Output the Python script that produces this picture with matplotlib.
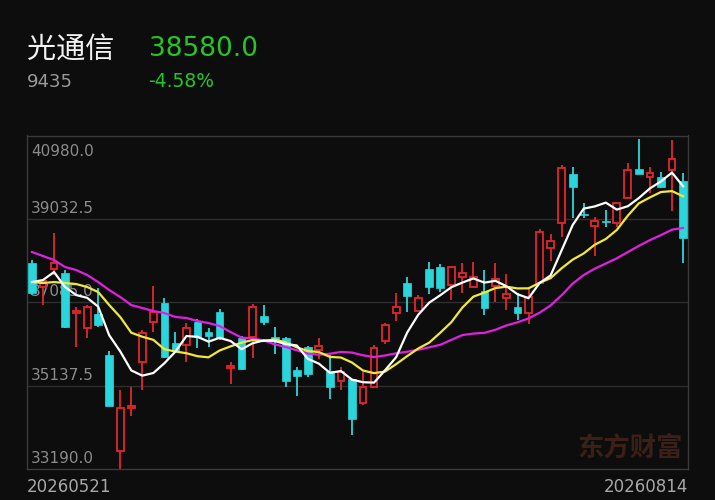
import matplotlib
matplotlib.use("Agg")
import matplotlib.pyplot as plt
import numpy as np

# 银柄数据 (读自截图)
stock_name = "光通信"
stock_code = "9435"
last_price = "38580.0"
change_pct = "-4.58%"
first_date = "20260521"
last_date = "20260814"

opens = [38001, 37441, 37861, 37768, 36833, 36483, 36810, 35852, 33610, 34614,
         35689, 36623, 37067, 36133, 36086, 36623, 36389, 36857, 35549, 36249,
         36273, 36763, 36273, 36249, 35502, 36039, 35969, 35478, 35245, 35292,
         34731, 35105, 36179, 36833, 37534, 36880, 37861, 37908, 37487, 37674,
         37441, 37347, 37464, 37184, 36973, 36833, 37534, 38352, 38936, 40080,
         39146, 38866, 38982, 38936, 39520, 40197, 40010, 40010, 40174, 39917]
highs = [38071, 37604, 38702, 37838, 36973, 37020, 37417, 35946, 35035, 35105,
         36436, 37464, 37184, 36389, 36600, 36693, 36483, 36927, 35689, 36296,
         37044, 37020, 36506, 36273, 35572, 36062, 36249, 35852, 35572, 35292,
         35455, 36086, 36600, 37301, 37674, 37254, 38025, 37978, 37931, 38001,
         38025, 37838, 38001, 37744, 37301, 37441, 38796, 38679, 40291, 40244,
         39403, 39076, 39239, 39403, 40337, 40900, 40244, 40127, 40880, 40104]
lows = [37254, 37020, 37721, 36483, 36039, 36249, 36506, 34661, 33190, 34427,
        35035, 36389, 35782, 35899, 35689, 36016, 36039, 36203, 35175, 35502,
        35782, 36553, 35876, 35105, 34894, 35338, 35759, 34824, 35035, 33983,
        34684, 35105, 36109, 36646, 36857, 36880, 37277, 37324, 37137, 37301,
        37417, 36787, 37090, 36903, 36670, 36576, 37534, 38048, 38609, 39053,
        39053, 38165, 38842, 38842, 39520, 40080, 39637, 39753, 39216, 38001]
closes = [37301, 37581, 38001, 36506, 36880, 36973, 36553, 34661, 34614, 34661,
          36366, 36857, 35805, 35969, 36483, 36273, 36296, 36249, 35595, 35525,
          36973, 36623, 36179, 35245, 35362, 35408, 36062, 35105, 35455, 34357,
          35105, 36016, 36553, 36973, 37230, 37184, 37441, 37417, 37908, 37768,
          37674, 36950, 37628, 37277, 36833, 37207, 38725, 38515, 40221, 39777,
          39123, 38982, 38959, 39403, 40174, 40080, 40104, 39777, 40432, 38580]

# 均线开头部分 (依赖截图范围之前的数据, 从图上读取)
ma5_head = [37557, 37604, 37791, 37441]
ma10_head = [37557, 37534, 37557, 37534, 37511, 37441, 37324, 37020, 36740]
ma20_head = [38258, 38165, 38071, 37908, 37838, 37721, 37557, 37371, 37207, 37020,
             36950, 36880, 36833, 36740, 36717, 36646, 36600, 36530, 36389]

y_min, y_max = 33190.0, 40980.0

BG = "#0d0d0d"
UP = "#e3262b"
DOWN = "#2ad6dc"


def moving_average(head, values, n):
    out = list(head)
    for i in range(n - 1, len(values)):
        out.append(np.mean(values[i - n + 1:i + 1]))
    return out


o = np.array(opens, dtype=float)
h = np.array(highs, dtype=float)
l = np.array(lows, dtype=float)
c = np.array(closes, dtype=float)
x = np.arange(len(c))

W, H = 715, 500
fig = plt.figure(figsize=(W / 100, H / 100), dpi=100, facecolor=BG)
ax = fig.add_axes([27 / W, 1 - 469 / H, (688 - 27) / W, (469 - 135.5) / H])
ax.set_facecolor(BG)

# 网格线
levels = np.linspace(y_min, y_max, 5)
for lv in levels[1:-1]:
    ax.axhline(lv, color="#2e2e2e", lw=1.0, zorder=0)

# 价格标签
for i, lv in enumerate(levels):
    dy = -20.5 if lv == y_max else 6
    ax.annotate(f"{lv:.1f}", xy=(0, lv), xycoords=("axes fraction", "data"),
                xytext=(4, dy), textcoords="offset pixels",
                color="#8c8c8c", fontsize=11, va="baseline", ha="left", zorder=1)

# K线
up = c >= o
body_lo = np.minimum(o, c)
body_hi = np.maximum(o, c)
body_h = np.maximum(body_hi - body_lo, 20)

# 阳线: 空心
ax.vlines(x[up], l[up], body_lo[up], color=UP, lw=1.3, zorder=2)
ax.vlines(x[up], body_hi[up], h[up], color=UP, lw=1.3, zorder=2)
ax.bar(x[up], body_h[up], bottom=body_lo[up], width=0.62,
       facecolor=BG, edgecolor=UP, linewidth=1.3, zorder=3)
# 阴线: 实心
ax.vlines(x[~up], l[~up], h[~up], color=DOWN, lw=1.3, zorder=2)
ax.bar(x[~up], body_h[~up], bottom=body_lo[~up], width=0.7,
       facecolor=DOWN, edgecolor=DOWN, linewidth=0.5, zorder=3)

# 均线
ma5 = moving_average(ma5_head, closes, 5)
ma10 = moving_average(ma10_head, closes, 10)
ma20 = moving_average(ma20_head, closes, 20)
ax.plot(x, ma20, color="#e020e0", lw=1.6, zorder=4)
ax.plot(x, ma10, color="#f2e83a", lw=1.6, zorder=5)
ax.plot(x, ma5, color="#ffffff", lw=1.6, zorder=6)

ax.set_xlim(-0.45, len(c) - 1 + 0.45)
ax.set_ylim(y_min, y_max)
ax.set_xticks([])
ax.set_yticks([])
for sp in ax.spines.values():
    sp.set_color("#3a3a3a")
    sp.set_linewidth(1.0)

# 水印
ax.text(0.912, 0.063, "东方财富", transform=ax.transAxes, ha="center", va="center",
        fontsize=19, fontweight="bold", color="#3a2016",
        family=["Noto Sans CJK SC", "DejaVu Sans"], zorder=1)

# 标题区
def ftext(px, py, s, **kw):
    fig.text(px / W, 1 - py / H, s, **kw)

ftext(27, 59, stock_name, fontsize=21, color="#f2f2f2", va="baseline",
      family=["Noto Sans CJK SC", "DejaVu Sans"])
ftext(149, 56, last_price, fontsize=19, color="#26c526", va="baseline")
ftext(27, 87, stock_code, fontsize=13, color="#9a9a9a", va="baseline")
ftext(148, 87, change_pct, fontsize=13.5, color="#26c526", va="baseline")

# 日期
ftext(27, 492, first_date, fontsize=12, color="#a8a8a8", va="baseline", ha="left")
ftext(688, 492, last_date, fontsize=12, color="#a8a8a8", va="baseline", ha="right")

fig.savefig("out.png", dpi=100, facecolor=BG)
